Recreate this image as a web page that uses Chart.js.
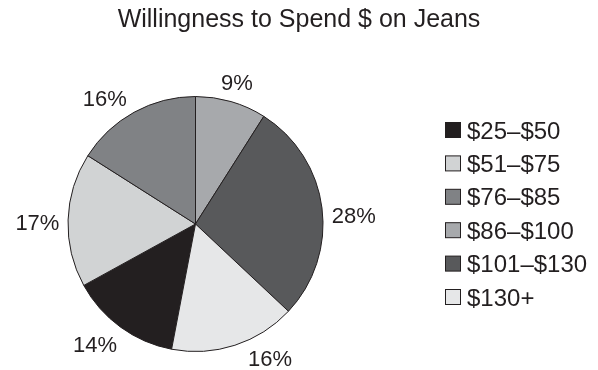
<!DOCTYPE html>
<html lang="en">
<head>
<meta charset="UTF-8">
<title>Willingness to Spend $ on Jeans</title>
<script src="https://cdn.jsdelivr.net/npm/chart.js@4.4.0/dist/chart.umd.min.js"></script>
<style>
  body { margin: 0; background: #fff; }
  #wrap { width: 598px; height: 370px; }
</style>
</head>
<body>
<div id="wrap"><canvas id="jeansChart" width="598" height="370"></canvas></div>
<script>
// price bands and share of people willing to pay them (%)
var bands = ['$25–$50', '$51–$75', '$76–$85', '$86–$100', '$101–$130', '$130+'];
var shares = [14, 17, 16, 9, 28, 16];
var greys = ['#231f20', '#d1d3d4', '#808285', '#a7a9ac', '#58595b', '#e6e7e8'];

var ink = '#231f20';
var face = '"Liberation Sans", Arial, Helvetica, sans-serif';

// the pie starts at 12 o'clock with the $86-$100 band, so turn it by the last three bands
var total = shares.reduce(function (a, b) { return a + b; }, 0);
var lead = shares.slice(3).reduce(function (a, b) { return a + b; }, 0);

// title and key drawn by hand so the pie can sit left of centre
var headerAndKey = {
  id: 'headerAndKey',
  afterDraw: function (chart, args, opts) {
    var ctx = chart.ctx;
    var ds = chart.data.datasets[0];
    ctx.save();
    ctx.fillStyle = ink;
    ctx.font = '25px ' + face;
    ctx.textAlign = 'center';
    ctx.fillText(opts.title, 299, 27);

    ctx.font = '24px ' + face;
    ctx.textAlign = 'left';
    ctx.lineWidth = 1;
    ctx.strokeStyle = ink;
    chart.data.labels.forEach(function (lab, i) {
      var cy = 130 + i * 33.4;
      ctx.fillStyle = ds.backgroundColor[i];
      ctx.fillRect(445.5, cy - 7.5, 15, 15);
      ctx.strokeRect(445.5, cy - 7.5, 15, 15);
      ctx.fillStyle = ink;
      ctx.fillText(lab, 467, cy + 8.6);
    });
    ctx.restore();
  }
};

// percentage outside each slice
var sliceLabels = {
  id: 'sliceLabels',
  afterDatasetsDraw: function (chart, args, opts) {
    var ctx = chart.ctx;
    var meta = chart.getDatasetMeta(0);
    var vals = chart.data.datasets[0].data;
    var capH = 22 * 0.716;
    ctx.save();
    ctx.font = '22px ' + face;
    ctx.fillStyle = ink;
    ctx.textAlign = 'center';
    meta.data.forEach(function (arc, i) {
      var p = arc.getProps(['x', 'y', 'startAngle', 'endAngle', 'outerRadius'], true);
      var a = (p.startAngle + p.endAngle) / 2 + (opts.nudge[i] || 0) * Math.PI / 180;
      var txt = vals[i] + '%';
      var w = ctx.measureText(txt).width;
      var c = Math.cos(a), s = Math.sin(a);
      var d = p.outerRadius + opts.gap + w / 2 * Math.abs(c) + capH / 2 * Math.abs(s);
      ctx.fillText(txt, p.x + d * c, p.y + d * s + capH / 2);
    });
    ctx.restore();
  }
};

new Chart(document.getElementById('jeansChart'), {
  type: 'pie',
  data: {
    labels: bands,
    datasets: [{
      data: shares,
      backgroundColor: greys,
      borderColor: ink,
      borderWidth: 1,
      hoverOffset: 0,
      radius: 127.5,
      rotation: lead / total * 360
    }]
  },
  options: {
    responsive: false,
    animation: false,
    layout: { padding: { left: 68, right: 275, top: 96.5, bottom: 18.5 } },
    plugins: {
      legend: { display: false },
      title: { display: false },
      tooltip: { enabled: false },
      headerAndKey: { title: 'Willingness to Spend $ on Jeans' },
      sliceLabels: { gap: 8.5, nudge: [4, -1, -7, 0, 4, -11] }
    }
  },
  plugins: [headerAndKey, sliceLabels]
});
</script>
</body>
</html>
